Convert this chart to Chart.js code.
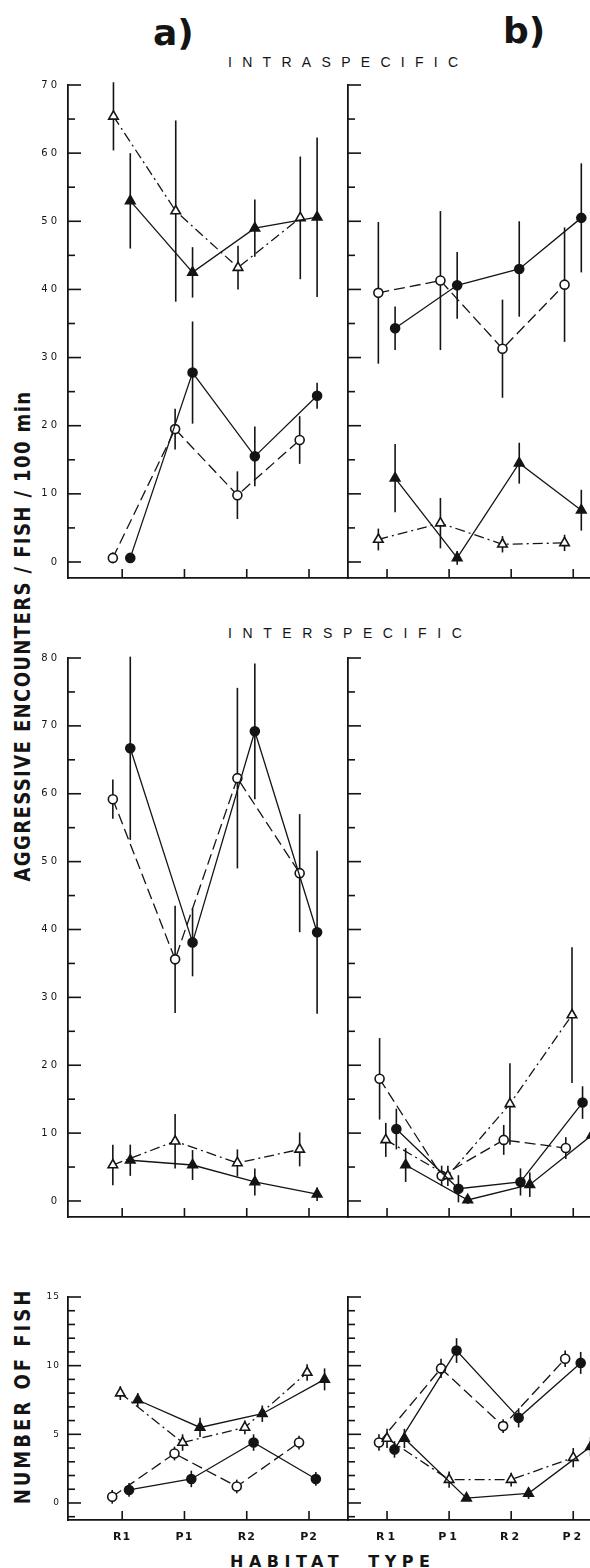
<!DOCTYPE html>
<html><head><meta charset="utf-8">
<script src="https://cdn.jsdelivr.net/npm/chart.js@4.4.1/dist/chart.umd.min.js"></script>
<style>
html,body{margin:0;padding:0;background:#fff;}
body{width:590px;height:1568px;position:relative;overflow:hidden;font-family:'DejaVu Sans',sans-serif;color:#141414;}
canvas{position:absolute;}
.t{position:absolute;white-space:nowrap;line-height:1;}
.rot{position:absolute;white-space:nowrap;text-align:center;font-weight:bold;font-family:'DejaVu Sans',sans-serif;}
</style></head><body>
<div class="t" style="left:153px;top:12px;font:bold 36px 'DejaVu Sans';">a)</div>
<div class="t" style="left:503px;top:10px;font:bold 36px 'DejaVu Sans';">b)</div>
<div class="t" style="left:228px;top:54px;font:14px 'Liberation Sans';letter-spacing:10.3px;">INTRASPECIFIC</div>
<div class="t" style="left:228px;top:625px;font:14px 'Liberation Sans';letter-spacing:10.6px;">INTERSPECIFIC</div>
<div class="t" style="left:230px;top:1552px;font:bold 16px 'DejaVu Sans';letter-spacing:5.5px;word-spacing:13px;">HABITAT TYPE</div>
<div class="rot" id="ytitle1" style="font-size:18px;letter-spacing:1.4px;">AGGRESSIVE ENCOUNTERS / FISH / 100 min</div>
<div class="rot" id="ytitle2" style="font-size:18px;letter-spacing:3px;">NUMBER OF FISH</div>
<script>
// ---------------- DATA ----------------
const habitats = ['R1', 'P1', 'R2', 'P2'];

// Intraspecific, a)
const intraA_openCircle      = [0.6, 19.5, 9.8, 17.9];
const intraA_openCircleErr   = [0.8, 3.0, 3.5, 3.5];
const intraA_filledCircle    = [0.6, 27.8, 15.5, 24.4];
const intraA_filledCircleErr = [0.4, 7.5, 4.4, 1.9];
const intraA_openTri         = [65.4, 51.5, 43.2, 50.5];
const intraA_openTriErr      = [5.0, 13.3, 3.2, 9.0];
const intraA_filledTri       = [53.0, 42.5, 49.0, 50.6];
const intraA_filledTriErr    = [7.0, 3.7, 4.2, 11.7];

// Intraspecific, b)
const intraB_openCircle      = [39.5, 41.3, 31.3, 40.7];
const intraB_openCircleErr   = [10.4, 10.2, 7.2, 8.4];
const intraB_filledCircle    = [34.3, 40.6, 43.0, 50.5];
const intraB_filledCircleErr = [3.2, 4.9, 7.0, 8.0];
const intraB_openTri         = [3.3, 5.7, 2.6, 2.8];
const intraB_openTriErr      = [1.6, 3.7, 1.2, 1.2];
const intraB_filledTri       = [12.3, 0.6, 14.5, 7.6];
const intraB_filledTriErr    = [5.0, 1.0, 3.0, 3.0];

// Interspecific, a)
const interA_openCircle      = [59.2, 35.6, 62.3, 48.3];
const interA_openCircleErr   = [2.9, 7.9, 13.3, 8.7];
const interA_filledCircle    = [66.7, 38.1, 69.2, 39.6];
const interA_filledCircleErr = [13.5, 5.0, 10.0, 12.0];
const interA_openTri         = [5.3, 8.8, 5.6, 7.6];
const interA_openTriErr      = [3.0, 4.0, 2.0, 2.5];
const interA_filledTri       = [6.0, 5.3, 2.8, 1.0];
const interA_filledTriErr    = [2.3, 2.2, 2.0, 1.0];

// Interspecific, b)
const interB_openCircle      = [18.0, 3.7, 9.0, 7.8];
const interB_openCircleErr   = [6.0, 1.5, 2.2, 1.6];
const interB_filledCircle    = [10.6, 1.8, 2.8, 14.5];
const interB_filledCircleErr = [3.0, 2.0, 2.0, 2.4];
const interB_openTri         = [9.0, 3.7, 14.3, 27.4];
const interB_openTriErr      = [2.5, 1.5, 6.0, 10.0];
const interB_filledTri       = [5.3, 0.15, 2.4, 9.7];
const interB_filledTriErr    = [2.5, 0.6, 1.8, 2.0];

// Number of fish, a)
const fishA_openCircle       = [0.45, 3.6, 1.2, 4.4];
const fishA_openCircleErr    = [0.5, 0.5, 0.5, 0.5];
const fishA_filledCircle     = [0.95, 1.75, 4.4, 1.75];
const fishA_filledCircleErr  = [0.5, 0.6, 0.6, 0.5];
const fishA_openTri          = [8.0, 4.4, 5.5, 9.5];
const fishA_openTriErr       = [0.5, 0.6, 0.5, 0.6];
const fishA_filledTri        = [7.5, 5.5, 6.5, 9.0];
const fishA_filledTriErr     = [0.5, 0.7, 0.6, 0.8];

// Number of fish, b)
const fishB_openCircle       = [4.4, 9.8, 5.6, 10.5];
const fishB_openCircleErr    = [0.6, 0.7, 0.5, 0.6];
const fishB_filledCircle     = [3.9, 11.1, 6.2, 10.2];
const fishB_filledCircleErr  = [0.6, 0.9, 0.7, 0.8];
const fishB_openTri          = [4.7, 1.7, 1.7, 3.3];
const fishB_openTriErr       = [0.7, 0.6, 0.5, 0.7];
const fishB_filledTri        = [4.7, 0.35, 0.7, 4.1];
const fishB_filledTriErr     = [0.7, 0.2, 0.4, 0.7];

const SERIES = {
  intraA: {oc:[intraA_openCircle,intraA_openCircleErr], fc:[intraA_filledCircle,intraA_filledCircleErr], ot:[intraA_openTri,intraA_openTriErr], ft:[intraA_filledTri,intraA_filledTriErr]},
  intraB: {oc:[intraB_openCircle,intraB_openCircleErr], fc:[intraB_filledCircle,intraB_filledCircleErr], ot:[intraB_openTri,intraB_openTriErr], ft:[intraB_filledTri,intraB_filledTriErr]},
  interA: {oc:[interA_openCircle,interA_openCircleErr], fc:[interA_filledCircle,interA_filledCircleErr], ot:[interA_openTri,interA_openTriErr], ft:[interA_filledTri,interA_filledTriErr]},
  interB: {oc:[interB_openCircle,interB_openCircleErr], fc:[interB_filledCircle,interB_filledCircleErr], ot:[interB_openTri,interB_openTriErr], ft:[interB_filledTri,interB_filledTriErr]},
  fishA:  {oc:[fishA_openCircle,fishA_openCircleErr], fc:[fishA_filledCircle,fishA_filledCircleErr], ot:[fishA_openTri,fishA_openTriErr], ft:[fishA_filledTri,fishA_filledTriErr]},
  fishB:  {oc:[fishB_openCircle,fishB_openCircleErr], fc:[fishB_filledCircle,fishB_filledCircleErr], ot:[fishB_openTri,fishB_openTriErr], ft:[fishB_filledTri,fishB_filledTriErr]},
};

// ---------------- LAYOUT / STYLE ----------------
const INK = '#141414';
// horizontal offset of each symbol from its habitat tick (in category units)
const OFFSETS = {
  intraA: {oc:-0.15, fc:0.13, ot:-0.14, ft:0.13},
  intraB: {oc:-0.14, fc:0.13, ot:-0.14, ft:0.13},
  interA: {oc:-0.15, fc:0.13, ot:-0.15, ft:0.13},
  interB: {oc:-0.12, fc:0.15, ot:-0.02, ft:0.30},
  fishA:  {oc:-0.16, fc:0.11, ot:-0.03, ft:0.25},
  fishB:  {oc:-0.13, fc:0.12, ot:0.0,  ft:0.28},
};
const STYLES = {
  oc: {pointStyle:'circle',   radius:4.5, fill:'#fff', dash:[11,5]},
  fc: {pointStyle:'circle',   radius:4.5, fill:INK,    dash:[]},
  ot: {pointStyle:'triangle', radius:5.5, fill:'#fff', dash:[10,4,2,4]},
  ft: {pointStyle:'triangle', radius:5.5, fill:INK,    dash:[]},
};
const PANELS = [
  {key:'intraA', left:68,  right:347, top:85,   bottom:578,  yMin:-2.35, yMax:70, minor:5, major:10, xMin:-0.87,  xMax:3.61, yLabels:true,  xLabels:false},
  {key:'intraB', left:348, right:590, top:85,   bottom:578,  yMin:-2.35, yMax:70, minor:5, major:10, xMin:-0.629, xMax:3.27, yLabels:false, xLabels:false},
  {key:'interA', left:68,  right:347, top:658,  bottom:1217, yMin:-2.36, yMax:80, minor:5, major:10, xMin:-0.87,  xMax:3.61, yLabels:true,  xLabels:false},
  {key:'interB', left:348, right:590, top:658,  bottom:1217, yMin:-2.36, yMax:80, minor:5, major:10, xMin:-0.629, xMax:3.27, yLabels:false, xLabels:false},
  {key:'fishA',  left:68,  right:347, top:1297, bottom:1520, yMin:-1.24, yMax:15, minor:1, major:5,  xMin:-0.87,  xMax:3.61, yLabels:true,  xLabels:true, small:true},
  {key:'fishB',  left:348, right:590, top:1297, bottom:1520, yMin:-1.24, yMax:15, minor:1, major:5,  xMin:-0.629, xMax:3.27, yLabels:false, xLabels:true},
];

// rotated axis titles
function placeRot(id, cx, cy, len, sy){
  const el = document.getElementById(id);
  const h = 24;
  el.style.width = len + 'px'; el.style.height = h + 'px'; el.style.lineHeight = h + 'px';
  el.style.left = (cx - len/2) + 'px'; el.style.top = (cy - h/2) + 'px';
  el.style.transform = 'rotate(-90deg) scale(1,' + sy + ')';
}
placeRot('ytitle1', 23, 636, 520, 1.15);
placeRot('ytitle2', 23, 1396, 240, 1.15);

const inkPlugin = {
  id: 'ink',
  beforeDraw(chart, args, opts){ chart.ctx.letterSpacing = opts.spacing || '0px'; },
  beforeDatasetsDraw(chart){
    const {ctx, scales:{x, y}} = chart;
    ctx.save();
    ctx.strokeStyle = INK; ctx.lineWidth = 1.6; ctx.setLineDash([]);
    chart.data.datasets.forEach(ds => ds.data.forEach(pt => {
      const px = x.getPixelForValue(pt.x);
      ctx.beginPath();
      ctx.moveTo(px, y.getPixelForValue(pt.y - pt.e));
      ctx.lineTo(px, y.getPixelForValue(pt.y + pt.e));
      ctx.stroke();
    }));
    ctx.restore();
  },
  afterDraw(chart, args, opts){
    const {ctx, scales:{x, y}, chartArea} = chart;
    ctx.save();
    ctx.strokeStyle = INK; ctx.lineWidth = 1.6; ctx.setLineDash([]);
    y.ticks.forEach(t => {
      const py = y.getPixelForValue(t.value);
      const isMajor = Math.abs(t.value / opts.major - Math.round(t.value / opts.major)) < 1e-6;
      const len = isMajor ? 13 : 7;
      ctx.beginPath(); ctx.moveTo(chartArea.left, py); ctx.lineTo(chartArea.left + len, py); ctx.stroke();
    });
    habitats.forEach((h, i) => {
      const px = x.getPixelForValue(i);
      ctx.beginPath(); ctx.moveTo(px, chartArea.bottom); ctx.lineTo(px, chartArea.bottom - 9); ctx.stroke();
    });
    ctx.restore();
  }
};

PANELS.forEach(p => {
  const yAxisW = p.yLabels ? 40 : 8;
  const padTop = 14;
  const xAxisH = p.xLabels ? 30 : 2;
  const cLeft = p.left - yAxisW;
  const cTop = p.top - padTop;
  const W = p.right - cLeft;
  const H = (p.bottom - cTop) + xAxisH;
  const cv = document.createElement('canvas');
  cv.width = W; cv.height = H;
  cv.style.left = cLeft + 'px'; cv.style.top = cTop + 'px';
  cv.style.width = W + 'px'; cv.style.height = H + 'px';
  document.body.appendChild(cv);

  const datasets = ['ft','fc','ot','oc'].map(s => {
    const [vals, errs] = SERIES[p.key][s];
    const st = STYLES[s];
    return {
      data: vals.map((v, i) => ({x: i + OFFSETS[p.key][s], y: v, e: errs[i]})),
      borderColor: INK, borderWidth: 1.3, borderDash: st.dash,
      pointStyle: st.pointStyle, pointRadius: st.radius,
      pointBackgroundColor: st.fill, pointBorderColor: INK, pointBorderWidth: 1.6,
      tension: 0, clip: false, fill: false
    };
  });

  new Chart(cv, {
    type: 'line',
    data: {datasets},
    plugins: [inkPlugin],
    options: {
      responsive: false, animation: false, devicePixelRatio: 1,
      layout: {autoPadding: false, padding: {top: padTop, right: 0, bottom: 0, left: 0}},
      plugins: {legend: {display: false}, tooltip: {enabled: false},
                ink: {spacing: p.small ? '1px' : '3px', major: p.major}},
      scales: {
        x: {
          type: 'linear', min: p.xMin, max: p.xMax,
          grid: {display: false, drawTicks: false},
          border: {display: true, color: INK, width: 1.8},
          ticks: {display: p.xLabels, padding: 11, color: INK,
                  font: {family: 'DejaVu Sans', size: 11, weight: 'bold'},
                  callback: v => habitats[v] !== undefined ? habitats[v] : ''},
          afterBuildTicks: s => { s.ticks = habitats.map((_, i) => ({value: i})); },
          afterFit: s => { s.height = xAxisH; s.paddingLeft = 0; s.paddingRight = 0; s.paddingTop = 0; s.paddingBottom = 0; }
        },
        y: {
          type: 'linear', min: p.yMin, max: p.yMax,
          grid: {display: false, drawTicks: false},
          border: {display: true, color: INK, width: 1.8},
          ticks: {display: p.yLabels, padding: 8, color: INK,
                  font: {family: 'DejaVu Sans', size: p.small ? 9 : 10},
                  callback: v => (Math.abs(v / p.major - Math.round(v / p.major)) < 1e-6) ? String(Math.round(v)) : ''},
          afterBuildTicks: s => {
            const t = [];
            for (let v = Math.ceil(p.yMin / p.minor) * p.minor; v <= p.yMax + 1e-9; v += p.minor) t.push({value: v});
            s.ticks = t;
          },
          afterFit: s => { s.width = yAxisW; s.paddingLeft = 0; s.paddingRight = 0; s.paddingTop = 0; s.paddingBottom = 0; }
        }
      }
    }
  });
});
</script>
</body></html>
